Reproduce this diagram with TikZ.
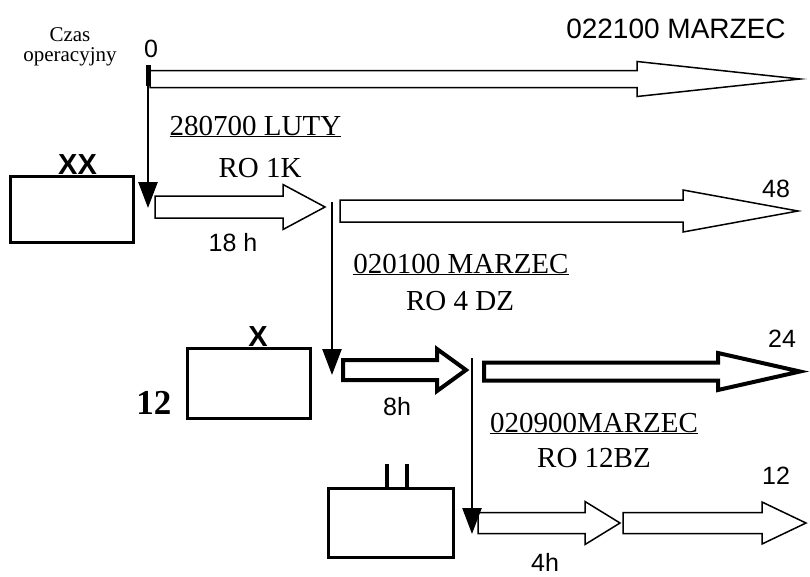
\documentclass[tikz,border=0pt]{standalone}
\usepackage{fontspec}
\setmainfont{Liberation Serif}
\setsansfont{Liberation Sans}
\usetikzlibrary{arrows.meta,positioning}

\tikzset{
  unit/.style={draw, line width=3pt, minimum width=123pt, inner sep=0pt},
  note/.style={font=\fontsize{29}{34}\selectfont, inner sep=0pt},
  lab/.style={font=\sffamily\fontsize{25}{28}\selectfont, inner sep=0pt},
  sym/.style={font=\sffamily\bfseries\fontsize{29}{30}\selectfont, inner sep=0pt},
  drop/.style={line width=2.5pt, -{Triangle[length=26pt,width=19pt]}},
}

\begin{document}
\begin{tikzpicture}[x=1pt, y=-1pt, line join=miter]
	\useasboundingbox (0,0) rectangle (810,576);
	
	% Hollow time arrows: start / head start / tip / centre y / shaft half / head half / line width
	\foreach \xa/\xh/\xt/\yc/\s/\h/\lw in {
		150/637/800/79/8.5/17.5/1.5pt,
		155/283/325/207/11/22.5/1.5pt,
		340/683/798/211/11/21/1.5pt,
		343/437/466/370/10/21/4pt,
		484/718/800/371.5/9/18.5/4pt,
		478/585/620/523/10.5/21.5/1.5pt,
		623/762/806/523/10.5/21/1.5pt}
	\draw[line width=\lw, fill=white] (\xa,\yc-\s) -- (\xh,\yc-\s) -- (\xh,\yc-\h)
		-- (\xt,\yc) -- (\xh,\yc+\h) -- (\xh,\yc+\s) -- (\xa,\yc+\s) -- cycle;
	
	% Units
	\node[unit, minimum height=66pt] (xx) at (71.5,209) {};
	\node[unit, minimum height=70pt] (x) at (248.5,383) {};
	\node[unit, minimum width=125pt, minimum height=69pt] (ii) at (390.5,522.5) {};
	
	% Unit size symbols
	\node[sym, anchor=base] (xxlab) at ([xshift=6pt]xx.north) {XX};
	\node[sym, anchor=base] (xlab) at ([xshift=9.5pt]x.north) {X};
	\draw[line width=4pt] ([xshift=-3.5pt]ii.north) -- ++(0,-23);
	\draw[line width=4pt] ([xshift=16.5pt]ii.north) -- ++(0,-23);
	\node[anchor=base east, inner sep=0pt, font=\bfseries\fontsize{35}{40}\selectfont]
		(n12) at ([xshift=-14pt, yshift=5pt]x.south west) {12};
	
	% Orders moving down
	\coordinate (s1) at (148,65);  \coordinate (e1) at (148,208);
	\coordinate (s2) at (332,202); \coordinate (e2) at (332,375);
	\coordinate (s3) at (472,358); \coordinate (e3) at (472,534);
	\draw[line width=5pt] (s1) -- ++(0,21);
	\draw[drop] (s1) -- (e1);
	\draw[drop] (s2) -- (e2);
	\draw[drop] (s3) -- (e3);
	
	% Order texts
	\node[note, anchor=base] (d1) at (255.5,135) {\underline{280700 LUTY}};
	\node[note, anchor=base] (r1) at (260,177) {RO 1K};
	\node[note, anchor=base] (d2) at (461,273) {\underline{020100 MARZEC}};
	\node[note, anchor=base] (r2) at (460,310) {RO 4 DZ};
	\node[note, anchor=base] (d3) at (594,432) {\underline{020900MARZEC}};
	\node[note, anchor=base] (r3) at (594,467) {RO 12BZ};
	
	% Time labels
	\node[font=\fontsize{21}{20}\selectfont, inner sep=0pt, align=center] (czas) at (70,47) {Czas\\operacyjny};
	\node[lab, anchor=base] (t0) at (151,57) {0};
	\node[font=\sffamily\fontsize{28}{30}\selectfont, inner sep=0pt, anchor=base] (top) at (676,38) {022100 MARZEC};
	\node[lab, anchor=base] (h18) at (233,251) {18 h};
	\node[lab, anchor=base] (h8) at (397,415) {8h};
	\node[lab, anchor=base] (h4) at (545,571) {4h};
	\node[lab, anchor=base] (t48) at (776,197) {48};
	\node[lab, anchor=base] (t24) at (782,347) {24};
	\node[lab, anchor=base] (t12) at (776,484) {12};
\end{tikzpicture}
\end{document}
